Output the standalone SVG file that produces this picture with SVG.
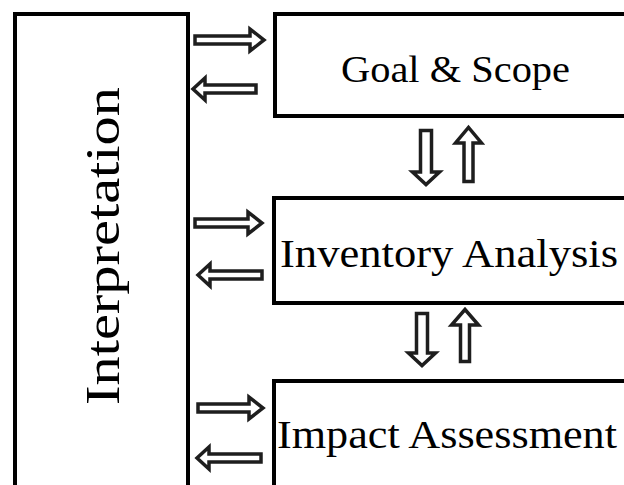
<svg xmlns="http://www.w3.org/2000/svg" width="624" height="485" viewBox="0 0 624 485">
<style>
.box{fill:#fff;stroke:#000;stroke-width:4}
.lbl{font-family:"Liberation Serif","Times New Roman",serif;fill:#000}
.arr{fill:#fff;stroke:#1e1e1e;stroke-width:3.5;stroke-linejoin:miter}
</style>
<rect width="624" height="485" fill="#fff"/>
<g id="interpretation">
<rect class="box" x="15" y="14" width="173" height="500"/>
<text class="lbl" font-size="48" transform="translate(119,405) rotate(-90)" x="0" y="0" textLength="318" lengthAdjust="spacingAndGlyphs">Interpretation</text>
</g>
<g id="goal-scope">
<rect class="box" x="275" y="14" width="400" height="102"/>
<text class="lbl" font-size="38" x="341" y="82" textLength="229" lengthAdjust="spacingAndGlyphs">Goal &amp; Scope</text>
</g>
<g id="inventory-analysis">
<rect class="box" x="274" y="198" width="400" height="105"/>
<text class="lbl" font-size="41" x="280" y="267" textLength="338" lengthAdjust="spacingAndGlyphs">Inventory Analysis</text>
</g>
<g id="impact-assessment">
<rect class="box" x="274" y="381" width="400" height="200"/>
<text class="lbl" font-size="40" x="277" y="448" textLength="340" lengthAdjust="spacingAndGlyphs">Impact Assessment</text>
</g>
<g id="connectors">
<path class="arr" d="M195,36 H250 V29 L264,40 L250,51 V44 H195 Z"/>
<path class="arr" d="M195,219 H248 V212 L262,223 L248,234 V227 H195 Z"/>
<path class="arr" d="M198,404 H249 V397 L263,408 L249,419 V412 H198 Z"/>
<path class="arr" d="M256,85 H205 V78 L193,89 L205,100 V93 H256 Z"/>
<path class="arr" d="M262,271 H210 V264 L198,275 L210,286 V279 H262 Z"/>
<path class="arr" d="M261,454 H209 V447 L197,458 L209,469 V462 H261 Z"/>
<path class="arr" d="M420.5,130.5 H431.5 V172 H439.5 L426,184.5 L412.5,172 H420.5 Z"/>
<path class="arr" d="M416.5,313.5 H427.5 V353 H435.5 L422,365.5 L408.5,353 H416.5 Z"/>
<path class="arr" d="M464,181.5 H473 V143 H481.5 L468.5,127.5 L455.5,143 H464 Z"/>
<path class="arr" d="M460.5,361.5 H469.5 V325 H478.5 L465,309.5 L451.5,325 H460.5 Z"/>
</g>
</svg>
